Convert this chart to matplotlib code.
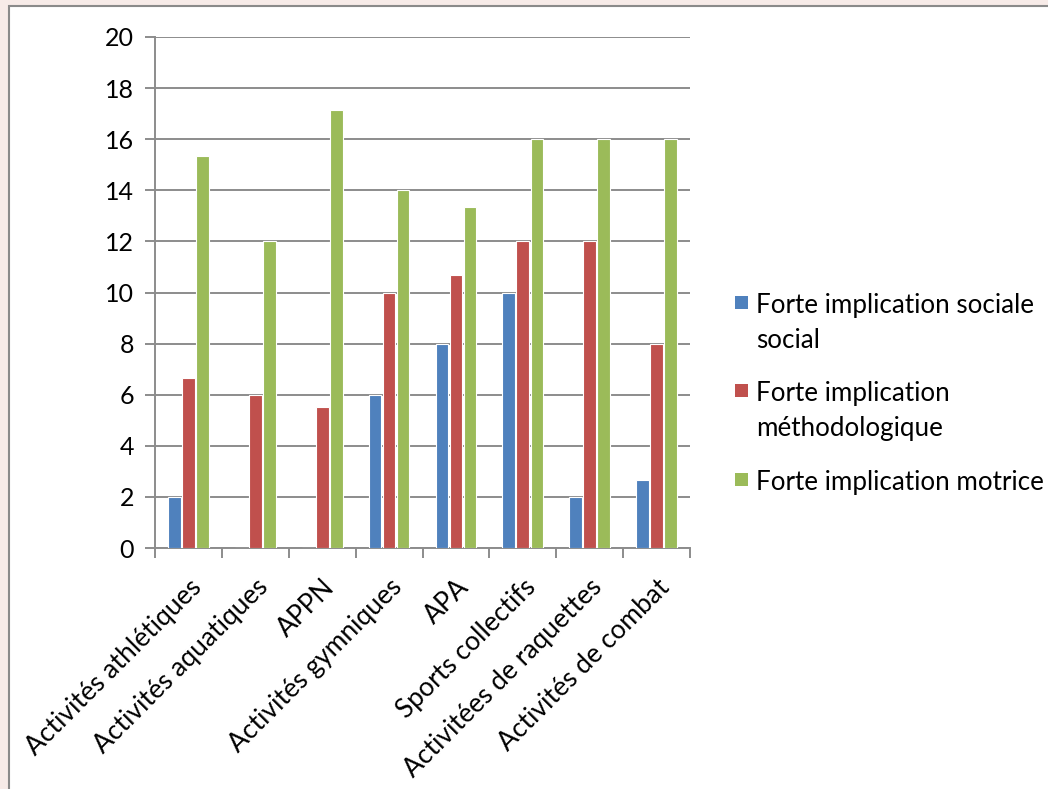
import numpy as np
import matplotlib
matplotlib.use('Agg')
import matplotlib.pyplot as plt
from matplotlib.patches import Rectangle

plt.rcParams['font.family'] = ['Lato', 'DejaVu Sans']

categories = ['Activités athlétiques', 'Activités aquatiques', 'APPN', 'Activités gymniques',
              'APA', 'Sports collectifs', 'Activitées de raquettes', 'Activités de combat']
sociale = [2, 0, 0, 6, 8, 10, 2, 2.67]
methodo = [6.67, 6, 5.5, 10, 10.67, 12, 12, 8]
motrice = [15.33, 12, 17.14, 14, 13.33, 16, 16, 16]
series_names = ['Forte implication sociale\nsocial', 'Forte implication\nméthodologique',
                'Forte implication motrice']
colors = ['#4f81bd', '#c0504d', '#9bbb59']

W, H = 1048, 789
fig = plt.figure(figsize=(W / 100, H / 100), dpi=100, facecolor='#f7ebe8')
# white chart frame with grey border
bg = fig.add_axes([0, 0, 1, 1], zorder=-5)
bg.set_xlim(0, W); bg.set_ylim(H, 0); bg.axis('off')
bg.add_patch(Rectangle((9, 6), W, H, facecolor='white', edgecolor='#8a8a8a', linewidth=1.5))

ax = fig.add_axes([155 / W, 1 - 548 / H, 535 / W, 511 / H])
ax.set_facecolor('none')

x = np.arange(len(categories))
w, step = 0.19, 0.21
for i, (vals, c) in enumerate(zip([sociale, methodo, motrice], colors)):
    ax.bar(x + (i - 1) * step, vals, width=w, color=c, edgecolor='white', linewidth=0.8, zorder=3)

ax.set_xlim(-0.5, len(categories) - 0.5)
ax.set_ylim(0, 20)
ax.set_yticks(range(0, 21, 2))
ax.yaxis.grid(True, color='#8c8c8c', linewidth=1.4, zorder=0)
ax.set_axisbelow(True)
for s in ['top', 'right']:
    ax.spines[s].set_visible(False)
for s in ['left', 'bottom']:
    ax.spines[s].set_color('#8c8c8c')
    ax.spines[s].set_linewidth(1.4)

ax.set_xticks(np.arange(-0.5, len(categories), 1.0))
ax.set_xticklabels([])
ax.set_xticks(x, minor=True)
ax.set_xticklabels(categories, minor=True, rotation=45, ha='right', rotation_mode='anchor',
                   fontsize=19)
ax.tick_params(axis='x', which='major', length=7, color='#8c8c8c', width=1.4)
ax.tick_params(axis='x', which='minor', length=0, pad=19)
ax.tick_params(axis='y', length=7, color='#8c8c8c', width=1.4, labelsize=18, pad=8)

# legend, square aligned with first line of each label
for name, c, yy in zip(series_names, colors, [303, 391, 480]):
    bg.add_patch(Rectangle((735, yy - 7), 13, 13, facecolor=c, edgecolor='none'))
    bg.text(756, yy - 10, name, fontsize=18.7, va='top', ha='left', linespacing=1.5)

fig.savefig('out.png', dpi=100, facecolor=fig.get_facecolor())
